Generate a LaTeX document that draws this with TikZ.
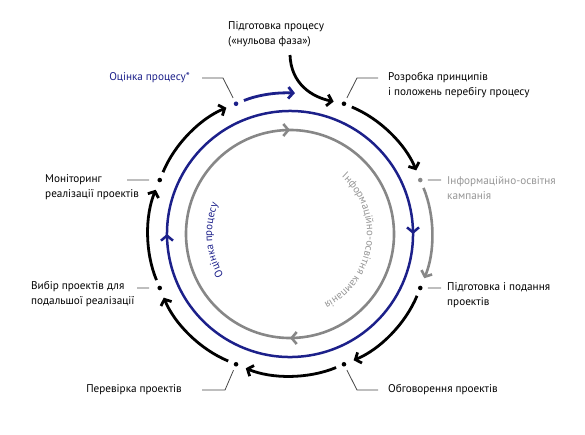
\documentclass[tikz,border=0pt]{standalone}
\usepackage{fontspec}
\setmainfont{PT Sans}
\usetikzlibrary{arrows.meta,decorations.markings,decorations.text}
\definecolor{navy}{RGB}{28,32,138}
\definecolor{midgray}{RGB}{135,135,135}
\definecolor{txtgray}{RGB}{150,150,150}
\definecolor{leadgray}{RGB}{70,70,70}
\begin{document}
\begin{tikzpicture}[x=1pt,y=1pt,
  pdot/.style={circle, fill=#1, inner sep=0pt, minimum size=4.6pt},
  lbl/.style={font=\fontsize{11.2}{15}\selectfont, align=left, inner sep=0pt},
  leader/.style={draw=leadgray, line width=0.8pt},
  barb/.style={-{Straight Barb[length=4.8pt,width=11.5pt]}},
  blk/.style={draw=black, line width=2.8pt, barb, shorten <=6pt, shorten >=8pt},
  gryarc/.style={draw=midgray, line width=2.6pt, barb, shorten <=6pt, shorten >=8pt},
  bluarc/.style={draw=navy, line width=2.8pt, barb, shorten <=6pt},
]
\useasboundingbox (0,0) rectangle (585,-434);

\begin{scope}[shift={(290,-234)}]
  % inner rings
  \draw[navy, line width=2.5pt, postaction={decorate},
        decoration={markings,
          mark=at position 0.02778 with {\arrow{Straight Barb[length=5pt,width=12pt]}},
          mark=at position 0.52778 with {\arrow{Straight Barb[length=5pt,width=12pt]}}}]
     (10:123) arc[start angle=10, end angle=-350, radius=123];
  \draw[midgray, line width=2.6pt, postaction={decorate},
        decoration={markings,
          mark=at position 0.02778 with {\arrow{Straight Barb[length=5pt,width=12pt]}},
          mark=at position 0.52778 with {\arrow{Straight Barb[length=5pt,width=12pt]}}}]
     (100:104) arc[start angle=100, end angle=-260, radius=104];

  % curved texts
  \path[decorate, decoration={text along path, text align=center,
        text={|\fontsize{10.8}{12}\selectfont\color{navy}|Оцінка процесу}}]
     (230:78) arc[start angle=230, end angle=139, radius=78];
  \path[decorate, decoration={text along path, text align=center,
        text={|\fontsize{10.8}{12}\selectfont\color{txtgray}|Інформаційно-освітня кампанія}}]
     (64:77) arc[start angle=64, end angle=-80, radius=77];

  % dots
  \node[pdot=black]   (dA) at (67.5:141) {};
  \node[pdot=midgray] (dB) at (22.5:141) {};
  \node[pdot=black]   (dC) at (-22.5:141) {};
  \node[pdot=black]   (dD) at (-67.5:141) {};
  \node[pdot=black]   (dE) at (-112.5:141) {};
  \node[pdot=black]   (dF) at (-157.5:141) {};
  \node[pdot=black]   (dG) at (157.5:141) {};
  \node[pdot=navy]    (dH) at (112.5:141) {};
  \coordinate (bt) at (88:141);
\end{scope}

% outer cycle
\draw[blk]    (dA) to[bend left=22.5, looseness=0.9] (dB);
\draw[gryarc] (dB) to[bend left=22.5, looseness=0.9] (dC);
\draw[blk]    (dC) to[bend left=22.5, looseness=0.9] (dD);
\draw[blk]    (dD) to[bend left=22.5, looseness=0.9] (dE);
\draw[blk]    (dE) to[bend left=22.5, looseness=0.9] (dF);
\draw[blk]    (dF) to[bend left=22.5, looseness=0.9] (dG);
\draw[blk]    (dG) to[bend left=22.5, looseness=0.9] (dH);
\draw[bluarc] (dH) to[bend left=12.25, looseness=0.9] (bt);

% start arrow
\node[lbl, anchor=west] (l0) at (228,-34.5) {Підготовка процесу\\(«нульова фаза»)};
\coordinate (s0) at (290,-55);
\draw[blk, shorten <=0pt] (s0) .. controls (291,-84) and (312,-97) .. (dA);

% labels
\node[lbl, anchor=west] (lA) at (388,-85.5) {Розробка принципів\\і положень перебігу процесу};
\node[lbl, anchor=west, text=txtgray] (lB) at (447,-188) {Інформаційно-освітня\\кампанія};
\node[lbl, anchor=west] (lC) at (447,-295.5) {Підготовка і подання\\проектів};
\node[lbl, anchor=mid west] (lD) at (388,-390) {Обговорення проектів};
\node[lbl, anchor=mid east] (lE) at (182,-390) {Перевірка проектів};
\node[lbl, anchor=west] (lF) at (31,-294.5) {Вибір проектів для\\подальшої реалізації};
\node[lbl, anchor=west] (lG) at (45,-187.5) {Моніторинг\\реалізації проектів};
\node[lbl, anchor=mid east, text=navy] (lH) at (190,-78) {Оцінка процесу*};

% leaders
\coordinate (kA1) at (357,-78);  \coordinate (kA2) at (378,-78);
\coordinate (kB)  at (441,-180);
\coordinate (kC)  at (441,-288);
\coordinate (kD1) at (357,-390); \coordinate (kD2) at (378,-390);
\coordinate (kE1) at (225,-390); \coordinate (kE2) at (202,-390);
\coordinate (kF)  at (137,-288);
\coordinate (kG)  at (127,-180);
\coordinate (kH1) at (223,-78);  \coordinate (kH2) at (202,-78);
\draw[leader, shorten <=4pt] (dA) -- (kA1) -- (kA2);
\draw[leader, shorten <=5pt] (dB) -- (kB);
\draw[leader, shorten <=5pt] (dC) -- (kC);
\draw[leader, shorten <=4pt] (dD) -- (kD1) -- (kD2);
\draw[leader, shorten <=4pt] (dE) -- (kE1) -- (kE2);
\draw[leader, shorten <=8pt] (dF) -- (kF);
\draw[leader, shorten <=8pt] (dG) -- (kG);
\draw[leader, shorten <=4pt] (dH) -- (kH1) -- (kH2);
\end{tikzpicture}
\end{document}
